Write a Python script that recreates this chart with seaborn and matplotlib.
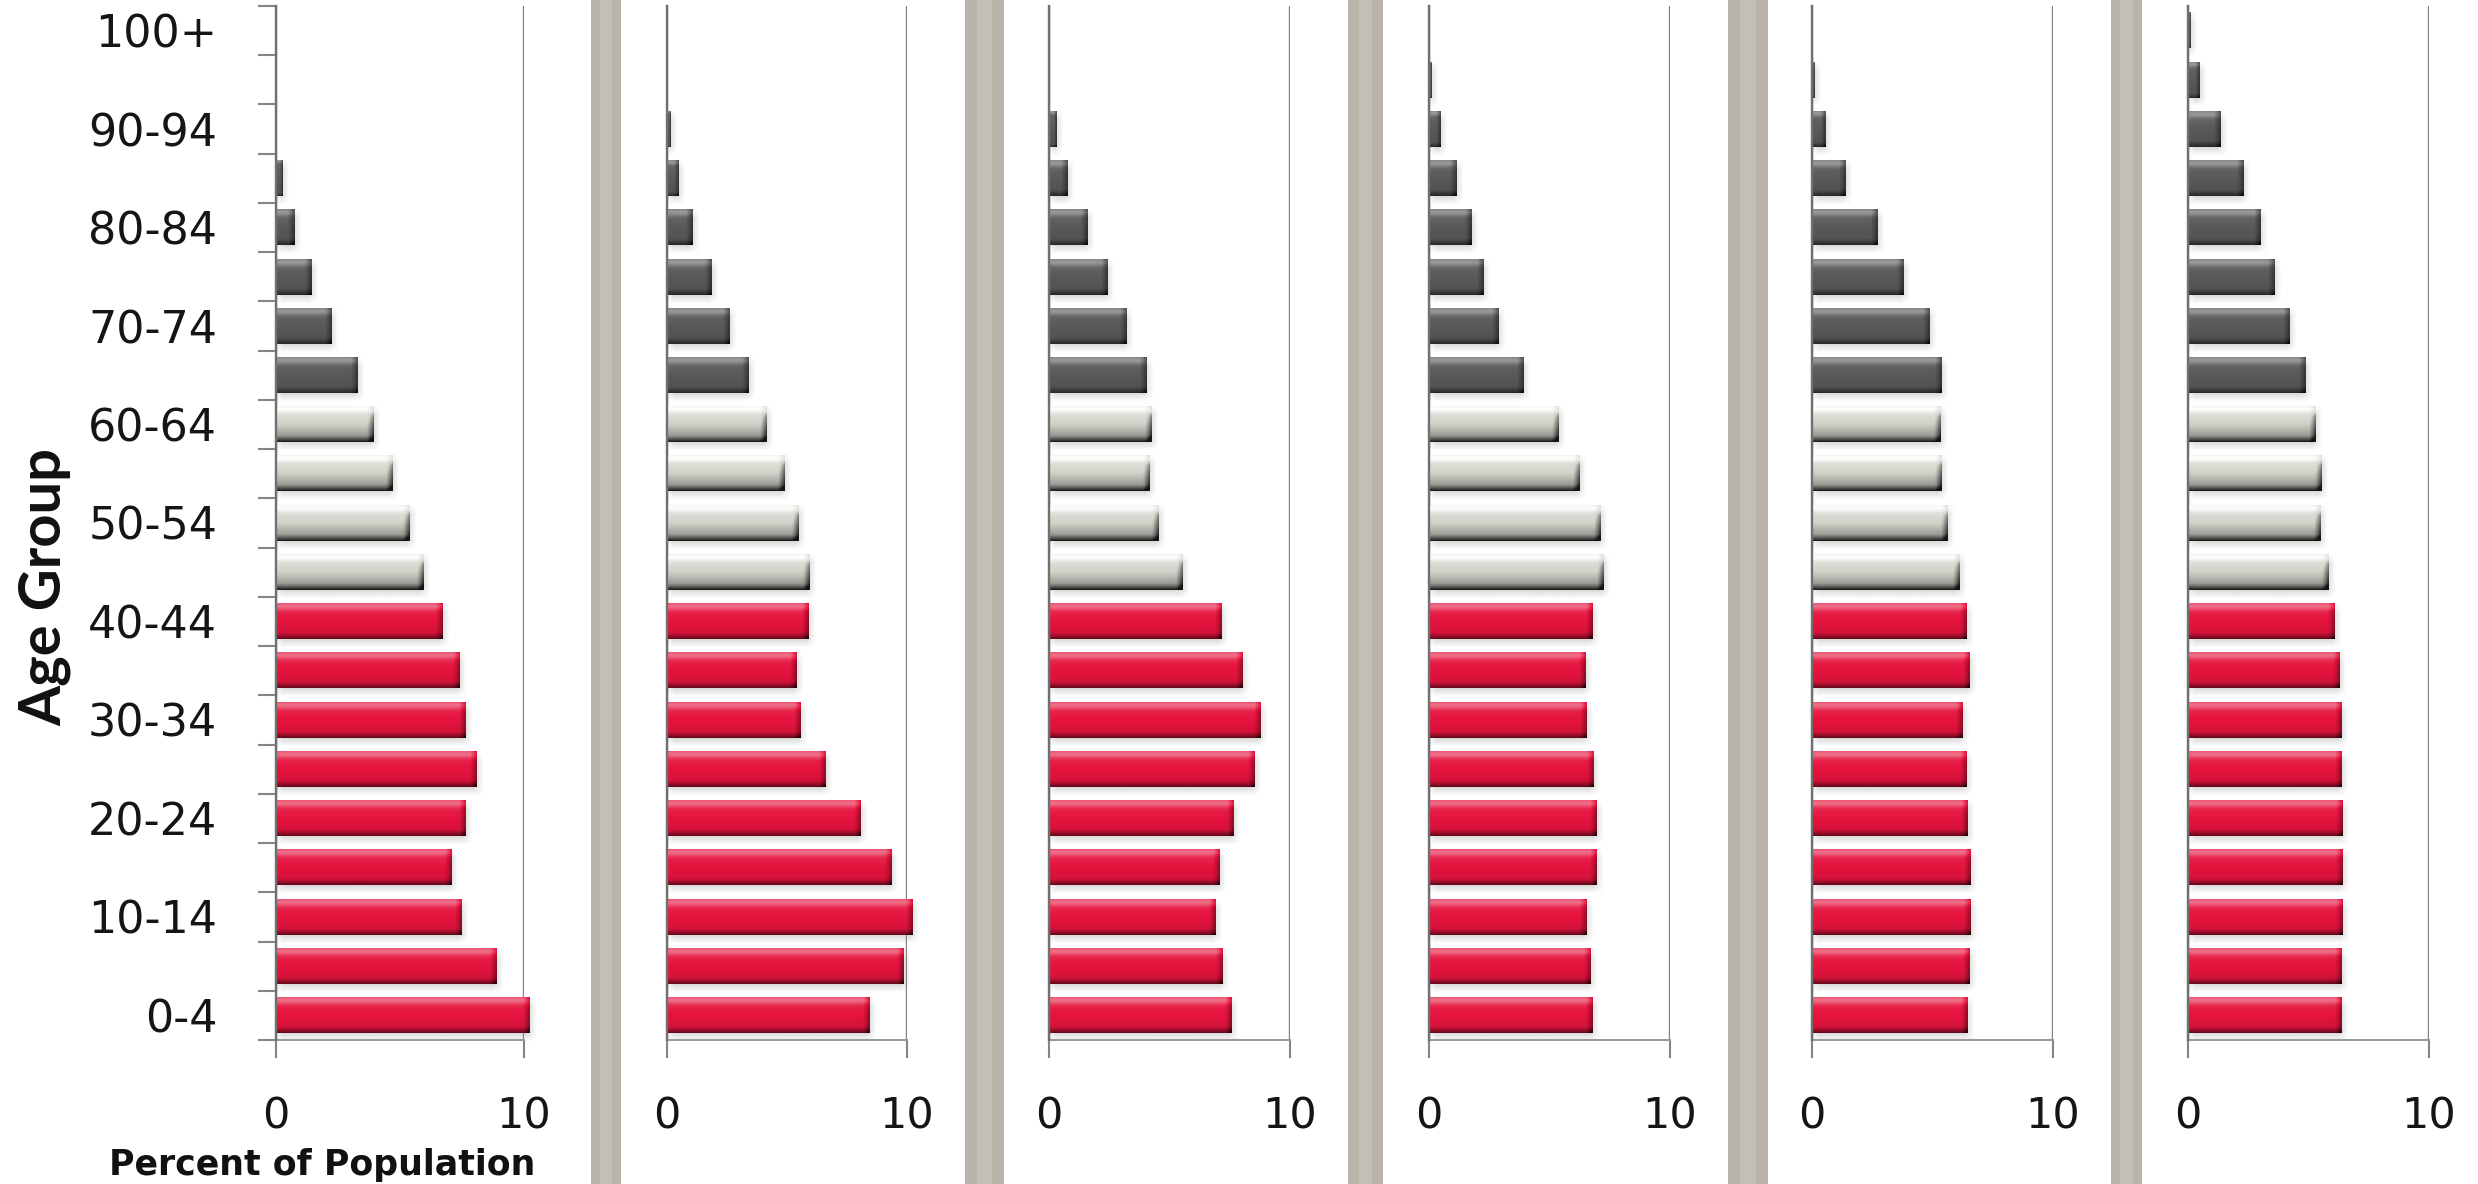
import numpy as np
import pandas as pd
import matplotlib
matplotlib.use("Agg")
import matplotlib.pyplot as plt
import matplotlib.colors as mcolors
from matplotlib.patches import Rectangle
from matplotlib import font_manager
import seaborn as sns

# ---------------------------------------------------------------- data
age_groups = ["0-4", "5-9", "10-14", "15-19", "20-24", "25-29", "30-34",
              "35-39", "40-44", "45-49", "50-54", "55-59", "60-64", "65-69",
              "70-74", "75-79", "80-84", "85-89", "90-94", "95-99", "100+"]

# age band of each group: under 45, 45-64, 65 and over
age_band = ["young"] * 9 + ["middle"] * 4 + ["old"] * 8

# percent of population per age group, one list per pyramid (left to right)
pct_1 = [10.19, 8.86, 7.47, 7.06, 7.63, 8.09, 7.62, 7.39, 6.69, 5.93, 5.37,
         4.71, 3.94, 3.27, 2.23, 1.41, 0.73, 0.25, 0.0, 0.0, 0.0]
pct_2 = [8.43, 9.85, 10.21, 9.36, 8.07, 6.62, 5.56, 5.41, 5.88, 5.94, 5.46,
         4.90, 4.16, 3.40, 2.61, 1.85, 1.06, 0.49, 0.15, 0.0, 0.0]
pct_3 = [7.56, 7.20, 6.89, 7.08, 7.65, 8.52, 8.79, 8.01, 7.14, 5.55, 4.56,
         4.19, 4.24, 4.03, 3.22, 2.44, 1.59, 0.78, 0.32, 0.0, 0.0]
pct_4 = [6.76, 6.67, 6.52, 6.94, 6.94, 6.82, 6.52, 6.49, 6.76, 7.21, 7.09,
         6.25, 5.38, 3.90, 2.88, 2.25, 1.77, 1.14, 0.48, 0.10, 0.0]
pct_5 = [6.46, 6.52, 6.58, 6.58, 6.46, 6.40, 6.25, 6.52, 6.40, 6.10, 5.62,
         5.38, 5.32, 5.38, 4.86, 3.81, 2.70, 1.41, 0.54, 0.10, 0.0]
pct_6 = [6.36, 6.36, 6.42, 6.42, 6.42, 6.36, 6.36, 6.30, 6.08, 5.81, 5.48,
         5.54, 5.27, 4.88, 4.22, 3.58, 3.01, 2.32, 1.33, 0.48, 0.10]
panels = [pct_1, pct_2, pct_3, pct_4, pct_5, pct_6]

x_ticks = [0, 10]
x_tick_labels = ["0", "10"]
y_tick_labels = age_groups[::2]          # every other group is labelled

band_colors = {"young": "#E5143E", "middle": "#D3D2CA", "old": "#595959"}
# bevel strengths: body gradient, top highlight, bottom shade, right shade
band_bevel = {"young": (0.10, 0.30, 0.50, 0.40),
              "middle": (0.42, 0.60, 0.50, 0.60),
              "old": (0.10, 0.30, 0.50, 0.45)}

# ---------------------------------------------------------------- figure
W, H = 2478, 1184
fig = plt.figure(figsize=(W / 100, H / 100), dpi=100)
fig.patch.set_facecolor("white")

panel_px = [(275.6, 248.4), (667, 240), (1049, 241),
            (1428.5, 241.5), (1812, 241), (2188, 241)]
ax_top_px, ax_bot_px = 6, 1040
separators_px = [(591, 30), (965, 39), (1348, 35), (1728, 40), (2111, 31)]

# grey gutters between the pyramids
for sx, sw in separators_px:
    fig.add_artist(Rectangle((sx / W, 0), sw / W, 1, transform=fig.transFigure,
                             facecolor="#B9B5AC", edgecolor="none", zorder=0))
    fig.add_artist(Rectangle(((sx + sw * 0.3) / W, 0), sw * 0.4 / W, 1,
                             transform=fig.transFigure, facecolor="#C3BFB6",
                             edgecolor="none", zorder=0))

order = age_groups[::-1]   # oldest at the top
row_height = 0.72
grid_col = "#808080"


def bevel_image(base_hex, params, w_px, h_px):
    base = np.array(mcolors.to_rgb(base_hex))
    body, top_hl, bot, right = params
    nx = max(int(round(w_px * 2)), 4)
    ny = max(int(round(h_px * 2)), 4)
    X, Y = np.meshgrid((np.arange(nx) + 0.5) / nx * w_px,
                       (np.arange(ny) + 0.5) / ny * h_px)
    b = max(min(7.0, h_px / 4, w_px / 2.5), 1.0)
    dt, db, dr = Y, h_px - Y, w_px - X
    s = body * (1 - 2 * Y / h_px)
    s = s + top_hl * np.exp(-((dt - 0.45 * b) / (0.55 * b)) ** 2)
    s = s - bot * np.clip(1 - db / b, 0, 1) ** 1.3
    s = s - right * np.clip(1 - dr / b, 0, 1) ** 1.2
    s = np.clip(s, -0.9, 0.95)[..., None]
    rgb = np.where(s > 0, base + s * (1 - base), base * (1 + s))
    return np.clip(rgb, 0, 1)


def shadow_image(w_px, h_px, m=5.0, dx=2.0, dy=4.0, amax=0.40):
    x_lo, x_hi = dx - m, w_px + dx + m
    y_lo, y_hi = dy - m, h_px + dy + m
    nx = max(int(round(x_hi - x_lo)), 4)
    ny = max(int(round(y_hi - y_lo)), 4)
    X, Y = np.meshgrid(np.linspace(x_lo, x_hi, nx), np.linspace(y_lo, y_hi, ny))
    ix = np.minimum(X - dx, dx + w_px - X)
    iy = np.minimum(Y - dy, dy + h_px - Y)
    fx = np.clip(0.5 + ix / (2 * m), 0, 1)
    fy = np.clip(0.5 + iy / (2 * m), 0, 1)
    img = np.zeros((ny, nx, 4))
    img[..., :3] = mcolors.to_rgb("#8A908A")
    img[..., 3] = amax * fx * fy
    return img, (x_lo, x_hi, y_lo, y_hi)


color_to_band = {mcolors.to_hex(c): k for k, c in band_colors.items()}

for i, (pct, (px0, pw)) in enumerate(zip(panels, panel_px)):
    ax = fig.add_axes([px0 / W, 1 - ax_bot_px / H, pw / W,
                       (ax_bot_px - ax_top_px) / H])
    df = pd.DataFrame({"age": age_groups, "pct": pct, "band": age_band})
    sns.barplot(data=df, y="age", x="pct", hue="band", order=order,
                hue_order=["young", "middle", "old"], palette=band_colors,
                dodge=False, width=row_height, saturation=1, legend=False,
                ax=ax, orient="h")
    ax.set_xlim(0, 10)
    ax.set_ylim(len(order) - 0.5, -0.5)

    ppx = pw / 10.0
    ppy = (ax_bot_px - ax_top_px) / len(order)
    for patch in list(ax.patches):
        w = patch.get_width()
        if not np.isfinite(w) or w <= 0:
            continue
        x0, y0, h = patch.get_x(), patch.get_y(), patch.get_height()
        band = color_to_band[mcolors.to_hex(patch.get_facecolor())]
        patch.set_edgecolor("none")
        patch.set_clip_on(False)
        w_px, h_px = w * ppx, h * ppy
        sh, (xl, xh, yl, yh) = shadow_image(w_px, h_px)
        ax.imshow(sh, extent=(x0 + xl / ppx, x0 + xh / ppx,
                              y0 + yh / ppy, y0 + yl / ppy),
                  aspect="auto", interpolation="bilinear", zorder=1.5,
                  clip_on=False)
        img = bevel_image(band_colors[band], band_bevel[band], w_px, h_px)
        ax.imshow(img, extent=(x0, x0 + w, y0 + h, y0), aspect="auto",
                  interpolation="bilinear", zorder=3, clip_on=False)

    ax.set_xlim(0, 10)
    ax.set_ylim(len(order) - 0.5, -0.5)
    ax.set_facecolor("none")
    ax.set_xlabel("")
    ax.set_ylabel("")

    for side in ("top", "right"):
        ax.spines[side].set_visible(False)
    ax.spines["left"].set_color("#707070")
    ax.spines["left"].set_linewidth(1.7)
    ax.spines["left"].set_zorder(4)
    ax.spines["bottom"].set_color("#9A9A9A")
    ax.spines["bottom"].set_linewidth(1.5)

    ax.set_axisbelow(True)
    ax.grid(axis="x", color=grid_col, linewidth=1.7)
    ax.grid(axis="y", visible=False)

    ax.set_xticks(x_ticks)
    ax.set_xticklabels(x_tick_labels, fontsize=31, color="#151515",
                       family="DejaVu Sans")
    ax.tick_params(axis="x", direction="out", length=13, width=1.5,
                   color="#858585", pad=27)

    if i == 0:
        ax.set_yticks(np.arange(-0.5, len(order), 1.0))
        ax.set_yticklabels([])
        ax.set_yticks([order.index(a) for a in y_tick_labels], minor=True)
        ax.set_yticklabels(y_tick_labels, minor=True, fontsize=32,
                           color="#151515", family="DejaVu Sans")
        ax.tick_params(axis="y", which="major", direction="out", length=13,
                       width=1.5, color="#858585")
        ax.tick_params(axis="y", which="minor", length=0, pad=42)
    else:
        ax.set_yticks([])

# axis titles
fig.text(322 / W, 1 - 1175 / H, "Percent of Population", ha="center",
         va="baseline", fontsize=25, fontweight="bold", color="#111111",
         family="DejaVu Sans")

installed = {f.name for f in font_manager.fontManager.ttflist}
title_family = ["Liberation Sans Narrow"] if "Liberation Sans Narrow" in installed \
    else ["Lato", "DejaVu Sans"]
ylab = fig.text(45 / W, 1 - 587 / H, "Age Group", rotation=90, ha="center",
                va="center", fontsize=46, fontweight="bold", color="#111111",
                family=title_family)
fig.canvas.draw()
ext = ylab.get_window_extent()
ylab.set_fontsize(46 * 278.0 / ext.height)

fig.savefig("out.png", dpi=100, facecolor="white")
